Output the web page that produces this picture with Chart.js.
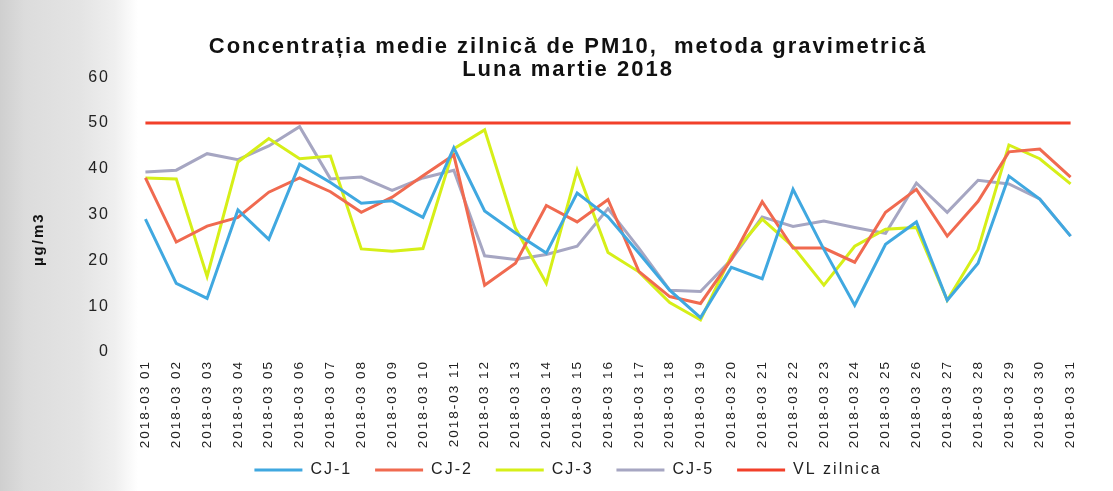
<!DOCTYPE html>
<html>
<head>
<meta charset="utf-8">
<title>PM10 martie 2018</title>
<script src="https://cdn.jsdelivr.net/npm/chart.js@4"></script>
<style>
    html, body {
        margin: 0;
        padding: 0;
        width: 1113px;
        height: 491px;
        overflow: hidden;
        background: linear-gradient(to right, #cfcfcf 0px, #dcdcdc 25px, #e4e4e4 80px, #efefef 115px, #ffffff 138px);
    }
    #wrap {
        position: relative;
        width: 1113px;
        height: 491px;
    }
</style>
</head>
<body>
<div id="wrap"><canvas id="pmChart" width="1113" height="491"></canvas></div>
<script>
// Daily values (µg/m3)
const days = [
    '2018-03 01', '2018-03 02', '2018-03 03', '2018-03 04', '2018-03 05', '2018-03 06', '2018-03 07', '2018-03 08',
    '2018-03 09', '2018-03 10', '2018-03 11', '2018-03 12', '2018-03 13', '2018-03 14', '2018-03 15', '2018-03 16',
    '2018-03 17', '2018-03 18', '2018-03 19', '2018-03 20', '2018-03 21', '2018-03 22', '2018-03 23', '2018-03 24',
    '2018-03 25', '2018-03 26', '2018-03 27', '2018-03 28', '2018-03 29', '2018-03 30', '2018-03 31'
];

const cj1 = [29, 15, 11.7, 31, 24.6, 41, 37, 32.5, 33, 29.4, 44.6, 30.8, 26, 21.6, 34.7, 29.5,
    21.6, 13.5, 7.5, 18.5, 16, 35.5, 22.4, 10.2, 23.5, 28.4, 11.3, 19.4, 38.4, 33.4, 25.3];
const cj2 = [38, 24, 27.5, 29.4, 34.9, 38, 35, 30.5, 33.8, 38.5, 43, 14.6, 19.4, 32, 28.4, 33.3,
    17.6, 12.1, 10.6, 20.2, 32.8, 22.7, 22.7, 19.6, 30.5, 35.5, 25.3, 32.9, 43.7, 44.3, 38.2];
const cj3 = [38, 37.8, 16.5, 41.5, 46.6, 42.2, 42.8, 22.5, 22, 22.6, 44.4, 48.5, 27, 15, 39.7, 21.7,
    17.5, 10.8, 7, 21, 29, 23, 14.6, 23.1, 26.8, 27.2, 11.3, 22.4, 45.2, 42.2, 36.7];
const cj5 = [39.3, 39.7, 43.3, 42, 45, 49.2, 37.8, 38.2, 35.3, 38, 39.7, 21, 20.2, 21.3, 23.1, 31.3,
    22.7, 13.5, 13.2, 20.2, 29.5, 27.4, 28.6, 27.2, 25.9, 36.9, 30.5, 37.5, 36.7, 33.4, 25.3];
const vlZilnica = [50, 50, 50, 50, 50, 50, 50, 50, 50, 50, 50, 50, 50, 50, 50, 50,
    50, 50, 50, 50, 50, 50, 50, 50, 50, 50, 50, 50, 50, 50, 50];

const yTicks = [0, 10, 20, 30, 40, 50, 60];

function makeSeries(label, data, color) {
    return {
        label: label,
        data: data,
        borderColor: color,
        backgroundColor: color,
        borderWidth: 3,
        pointRadius: 0,
        tension: 0,
        fill: false
    };
}

// the scanned chart uses widely spaced letters everywhere
const letterSpacing = {
    id: 'letterSpacing',
    beforeUpdate(chart) { chart.ctx.letterSpacing = '2px'; },
    beforeDraw(chart) { chart.ctx.letterSpacing = '2px'; }
};

const ctx = document.getElementById('pmChart').getContext('2d');
new Chart(ctx, {
    type: 'line',
    data: {
        labels: days,
        datasets: [
            makeSeries('CJ-1', cj1, '#40a8e0'),
            makeSeries('CJ-2', cj2, '#f06a50'),
            makeSeries('CJ-3', cj3, '#d6ef18'),
            makeSeries('CJ-5', cj5, '#a6a6c2'),
            makeSeries('VL zilnica', vlZilnica, '#f2402a')
        ]
    },
    plugins: [letterSpacing],
    options: {
        responsive: false,
        animation: false,
        layout: {
            padding: { left: 50, right: 27, top: 0, bottom: 3 }
        },
        plugins: {
            title: {
                display: true,
                text: ['Concentrația medie zilnică de PM10,  metoda gravimetrică', 'Luna martie 2018'],
                color: '#111',
                font: { family: 'Liberation Sans, Arial, sans-serif', size: 22, weight: 'bold', lineHeight: 1.05 },
                padding: { top: 35, bottom: -4 }
            },
            legend: {
                position: 'bottom',
                labels: {
                    usePointStyle: true,
                    pointStyle: 'line',
                    pointStyleWidth: 48,
                    color: '#222',
                    padding: 10,
                    font: { family: 'Liberation Sans, Arial, sans-serif', size: 16 },
                    generateLabels: function(chart) {
                        const items = Chart.defaults.plugins.legend.labels.generateLabels(chart);
                        // extra room between entries, none after the last one
                        items.forEach((item, i) => {
                            if (i < items.length - 1) item.text = item.text + '  ';
                        });
                        return items;
                    }
                }
            },
            tooltip: { enabled: false }
        },
        scales: {
            x: {
                offset: true,
                grid: { display: false, drawTicks: false },
                border: { display: false },
                ticks: {
                    minRotation: 90,
                    maxRotation: 90,
                    autoSkip: false,
                    padding: 8,
                    color: '#222',
                    font: { family: 'Liberation Sans, Arial, sans-serif', size: 13.5 }
                },
                afterFit: function(scale) { scale.height = 100; }
            },
            y: {
                min: 0,
                max: 60,
                afterBuildTicks: function(scale) {
                    scale.ticks = yTicks.map(v => ({ value: v }));
                },
                grid: { display: false, drawTicks: false },
                border: { display: false },
                ticks: {
                    padding: 20,
                    color: '#222',
                    font: { family: 'Liberation Sans, Arial, sans-serif', size: 16 }
                },
                title: {
                    display: true,
                    text: 'µg/m3        ',
                    color: '#111',
                    padding: { top: -20, bottom: 0 },
                    font: { family: 'Liberation Sans, Arial, sans-serif', size: 15, weight: 'bold' }
                },
                afterFit: function(scale) { scale.width = 80; }
            }
        }
    }
});
</script>
</body>
</html>
